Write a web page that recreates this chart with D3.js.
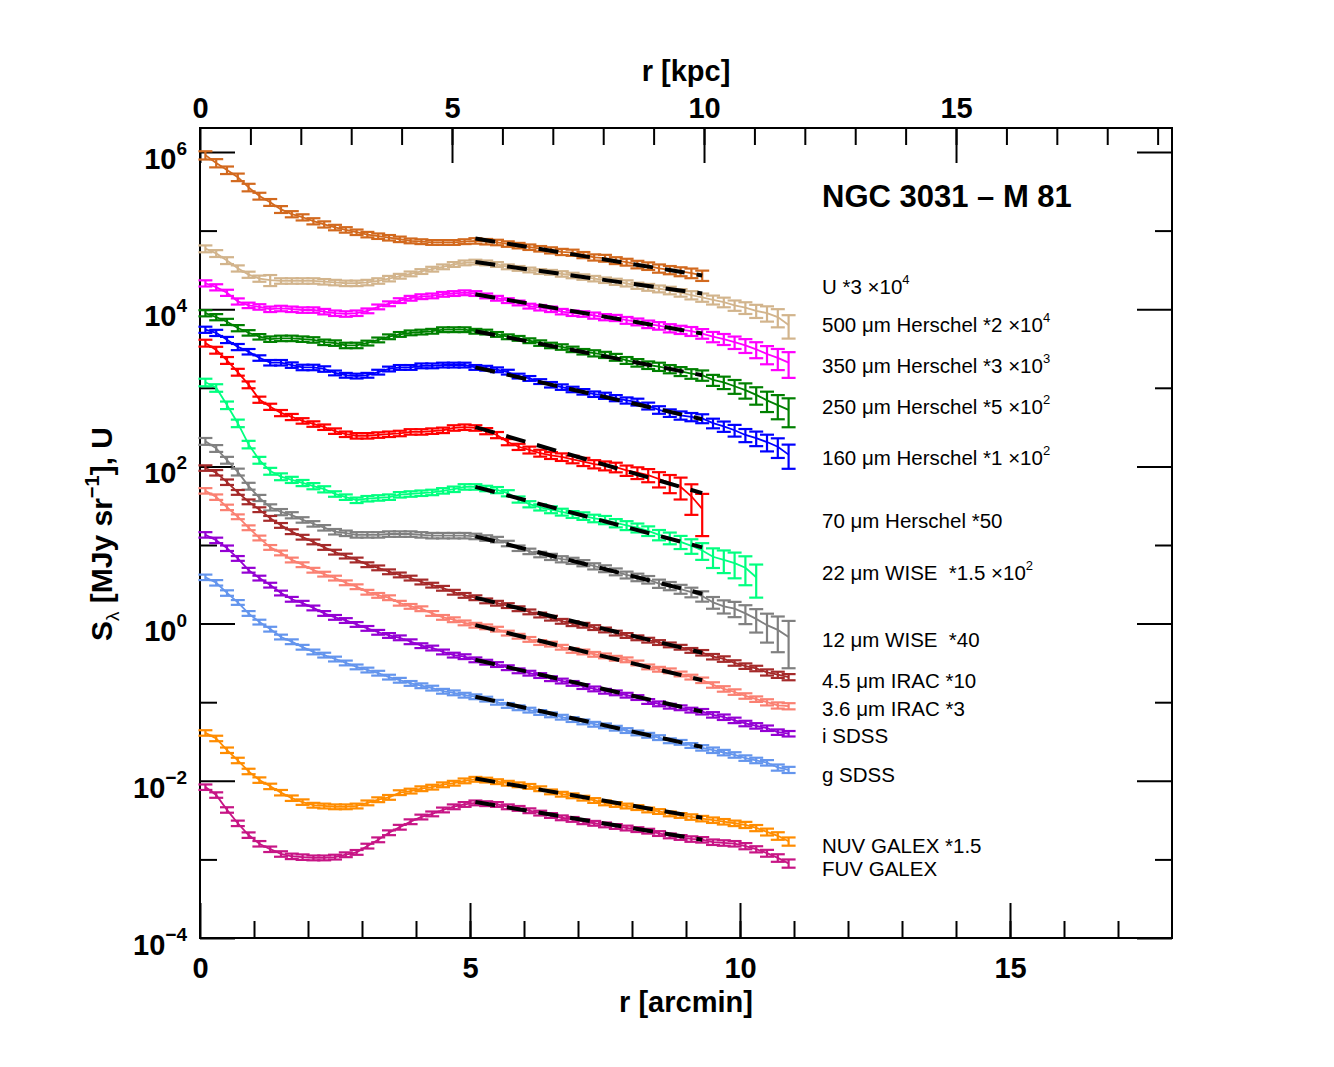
<!DOCTYPE html>
<html><head><meta charset="utf-8">
<script src="https://cdn.jsdelivr.net/npm/d3@7"></script>
<style>
body{margin:0;background:#fff;}
text{font-family:"Liberation Sans",Arial,Helvetica,sans-serif;white-space:pre;}
</style></head><body>
<svg id="chart" width="1334" height="1067"></svg>
<script>
// ---------------- DATA ----------------
const radiusArcmin = [0.1,0.3,0.5,0.7,0.9,1.1,1.3,1.5,1.7,1.9,2.1,2.3,2.5,2.7,2.9,3.1,3.3,3.5,3.7,3.9,4.1,4.3,4.5,4.7,4.9,5.1,5.3,5.5,5.7,5.9,6.1,6.3,6.5,6.7,6.9,7.1,7.3,7.5,7.7,7.9,8.1,8.3,8.5,8.7,8.9,9.1,9.3,9.5,9.7,9.9,10.1,10.3,10.5,10.7,10.9];
const kpcPerArcmin = 1.0714;

// log10 of scaled surface brightness
const log_U = [5.96,5.86,5.77,5.68,5.55,5.44,5.36,5.27,5.21,5.17,5.12,5.08,5.04,5.01,4.98,4.95,4.93,4.91,4.89,4.87,4.86,4.85,4.85,4.85,4.86,4.87,4.86,4.85,4.83,4.81,4.79,4.77,4.75,4.73,4.72,4.69,4.66,4.65,4.62,4.60,4.57,4.55,4.52,4.50,4.48,4.46,4.43];
const log_H500 = [4.77,4.71,4.62,4.52,4.44,4.39,4.37,4.36,4.36,4.36,4.36,4.35,4.34,4.33,4.33,4.34,4.36,4.39,4.42,4.45,4.48,4.51,4.54,4.57,4.59,4.60,4.59,4.57,4.54,4.52,4.50,4.48,4.47,4.45,4.43,4.41,4.39,4.37,4.35,4.33,4.30,4.28,4.26,4.24,4.21,4.18,4.15,4.12,4.09,4.05,4.02,3.98,3.95,3.90,3.80];
const log_H350 = [4.33,4.28,4.21,4.10,4.05,4.03,4.00,4.01,4.00,3.99,3.99,3.97,3.95,3.94,3.95,3.98,4.03,4.07,4.11,4.14,4.16,4.17,4.19,4.20,4.21,4.20,4.17,4.14,4.11,4.08,4.04,4.02,4.00,3.97,3.95,3.94,3.92,3.90,3.89,3.86,3.84,3.81,3.79,3.76,3.74,3.72,3.69,3.65,3.62,3.58,3.54,3.49,3.43,3.38,3.32];
const log_H250 = [3.95,3.90,3.84,3.76,3.70,3.65,3.62,3.63,3.63,3.62,3.61,3.58,3.57,3.54,3.54,3.57,3.61,3.65,3.68,3.70,3.71,3.72,3.74,3.74,3.74,3.72,3.71,3.68,3.65,3.63,3.60,3.57,3.54,3.52,3.49,3.46,3.44,3.42,3.39,3.35,3.32,3.29,3.27,3.24,3.21,3.18,3.16,3.10,3.07,3.02,2.97,2.91,2.84,2.78,2.72];
const log_H160 = [3.74,3.70,3.61,3.52,3.46,3.38,3.32,3.32,3.29,3.26,3.26,3.24,3.19,3.16,3.15,3.16,3.20,3.24,3.26,3.26,3.28,3.28,3.29,3.29,3.29,3.26,3.25,3.23,3.20,3.15,3.12,3.08,3.04,3.01,2.98,2.95,2.92,2.90,2.87,2.84,2.82,2.77,2.72,2.68,2.65,2.63,2.61,2.55,2.51,2.46,2.40,2.36,2.31,2.25,2.15];
const log_H70 = [3.57,3.48,3.35,3.20,3.04,2.85,2.76,2.68,2.63,2.58,2.54,2.50,2.45,2.41,2.39,2.39,2.40,2.41,2.42,2.44,2.44,2.45,2.46,2.49,2.50,2.49,2.45,2.40,2.31,2.25,2.21,2.17,2.14,2.12,2.09,2.06,2.03,2.01,1.99,1.95,1.92,1.89,1.84,1.79,1.74,1.62,1.46];
const log_W22 = [3.07,3.00,2.78,2.55,2.28,2.08,1.94,1.87,1.83,1.79,1.75,1.71,1.65,1.61,1.57,1.59,1.60,1.61,1.64,1.65,1.66,1.67,1.69,1.71,1.74,1.74,1.72,1.70,1.66,1.58,1.52,1.48,1.45,1.42,1.39,1.37,1.34,1.32,1.28,1.25,1.22,1.18,1.13,1.09,1.04,0.99,0.93,0.85,0.81,0.77,0.71,0.59];
const log_W12 = [2.32,2.23,2.08,1.93,1.75,1.60,1.48,1.42,1.38,1.32,1.27,1.22,1.17,1.15,1.13,1.13,1.13,1.14,1.14,1.14,1.13,1.12,1.12,1.12,1.12,1.11,1.09,1.07,1.02,0.96,0.92,0.88,0.85,0.82,0.80,0.77,0.73,0.70,0.66,0.62,0.59,0.56,0.51,0.48,0.44,0.40,0.35,0.27,0.22,0.19,0.13,0.06,-0.02,-0.08,-0.17];
const log_I45 = [1.98,1.92,1.80,1.67,1.55,1.45,1.34,1.25,1.17,1.10,1.04,0.97,0.91,0.86,0.81,0.75,0.71,0.66,0.62,0.58,0.53,0.49,0.45,0.40,0.36,0.33,0.29,0.26,0.23,0.19,0.15,0.11,0.07,0.03,0.00,-0.02,-0.05,-0.08,-0.12,-0.15,-0.18,-0.21,-0.24,-0.27,-0.30,-0.34,-0.37,-0.42,-0.45,-0.50,-0.54,-0.57,-0.62,-0.65,-0.68];
const log_I36 = [1.69,1.61,1.48,1.36,1.22,1.09,0.97,0.90,0.81,0.75,0.68,0.63,0.58,0.52,0.47,0.40,0.36,0.33,0.26,0.22,0.19,0.13,0.08,0.05,0.01,-0.02,-0.04,-0.07,-0.12,-0.16,-0.20,-0.24,-0.26,-0.30,-0.34,-0.36,-0.39,-0.41,-0.44,-0.46,-0.50,-0.55,-0.58,-0.60,-0.64,-0.68,-0.72,-0.78,-0.83,-0.87,-0.92,-0.96,-1.00,-1.04,-1.05];
const log_Si = [1.13,1.06,0.96,0.83,0.68,0.58,0.49,0.39,0.31,0.26,0.20,0.13,0.08,0.04,-0.01,-0.06,-0.11,-0.15,-0.18,-0.23,-0.28,-0.31,-0.36,-0.40,-0.42,-0.46,-0.49,-0.52,-0.56,-0.60,-0.63,-0.66,-0.70,-0.73,-0.76,-0.80,-0.83,-0.86,-0.88,-0.91,-0.94,-0.99,-1.02,-1.05,-1.07,-1.10,-1.12,-1.16,-1.19,-1.23,-1.27,-1.30,-1.33,-1.38,-1.40];
const log_Sg = [0.59,0.52,0.39,0.27,0.13,0.02,-0.07,-0.17,-0.23,-0.30,-0.36,-0.40,-0.45,-0.50,-0.55,-0.59,-0.63,-0.68,-0.72,-0.76,-0.79,-0.82,-0.86,-0.88,-0.91,-0.93,-0.96,-1.00,-1.04,-1.07,-1.10,-1.13,-1.16,-1.19,-1.22,-1.25,-1.28,-1.30,-1.33,-1.36,-1.39,-1.42,-1.45,-1.49,-1.51,-1.55,-1.58,-1.61,-1.64,-1.67,-1.71,-1.74,-1.77,-1.83,-1.86];
const log_NUV = [-1.39,-1.46,-1.61,-1.74,-1.88,-1.99,-2.07,-2.15,-2.22,-2.27,-2.31,-2.32,-2.33,-2.33,-2.32,-2.28,-2.24,-2.21,-2.15,-2.13,-2.10,-2.08,-2.05,-2.03,-2.00,-1.98,-1.99,-2.01,-2.03,-2.05,-2.07,-2.10,-2.14,-2.17,-2.19,-2.22,-2.25,-2.28,-2.30,-2.32,-2.34,-2.37,-2.39,-2.42,-2.44,-2.46,-2.48,-2.50,-2.52,-2.54,-2.56,-2.60,-2.65,-2.70,-2.77];
const log_FUV = [-2.08,-2.18,-2.37,-2.54,-2.69,-2.80,-2.87,-2.93,-2.96,-2.97,-2.98,-2.98,-2.97,-2.94,-2.91,-2.83,-2.75,-2.66,-2.59,-2.52,-2.46,-2.42,-2.37,-2.33,-2.30,-2.28,-2.29,-2.30,-2.33,-2.35,-2.38,-2.41,-2.44,-2.47,-2.49,-2.52,-2.54,-2.56,-2.58,-2.60,-2.62,-2.64,-2.67,-2.70,-2.72,-2.74,-2.75,-2.78,-2.79,-2.80,-2.83,-2.87,-2.92,-2.98,-3.05];

// fractional (linear) errors
const err_U = [0.12,0.12,0.11,0.11,0.11,0.10,0.10,0.10,0.09,0.09,0.09,0.09,0.08,0.08,0.08,0.08,0.08,0.08,0.08,0.07,0.07,0.07,0.07,0.07,0.07,0.08,0.08,0.08,0.08,0.08,0.08,0.08,0.09,0.09,0.09,0.09,0.09,0.10,0.10,0.10,0.11,0.11,0.12,0.12,0.13,0.14,0.15];
const err_H500 = [0.10,0.10,0.10,0.09,0.09,0.09,0.16,0.08,0.08,0.08,0.08,0.08,0.08,0.08,0.08,0.08,0.08,0.08,0.07,0.07,0.07,0.07,0.07,0.07,0.07,0.07,0.07,0.07,0.07,0.07,0.07,0.07,0.07,0.08,0.08,0.08,0.08,0.08,0.09,0.09,0.09,0.10,0.10,0.11,0.11,0.12,0.12,0.13,0.14,0.15,0.17,0.19,0.22,0.26,0.33];
const err_H350 = [0.09,0.09,0.09,0.09,0.08,0.08,0.08,0.08,0.08,0.08,0.08,0.08,0.08,0.08,0.08,0.07,0.07,0.07,0.07,0.07,0.07,0.07,0.07,0.07,0.07,0.07,0.07,0.07,0.07,0.07,0.07,0.08,0.08,0.08,0.08,0.08,0.09,0.09,0.09,0.10,0.10,0.11,0.11,0.12,0.12,0.13,0.14,0.15,0.16,0.18,0.20,0.23,0.26,0.30,0.36];
const err_H250 = [0.09,0.09,0.09,0.09,0.08,0.08,0.08,0.08,0.08,0.08,0.08,0.08,0.08,0.08,0.08,0.07,0.07,0.07,0.07,0.07,0.07,0.07,0.07,0.07,0.07,0.07,0.07,0.07,0.07,0.07,0.07,0.08,0.08,0.08,0.08,0.08,0.09,0.09,0.10,0.10,0.11,0.11,0.12,0.12,0.13,0.14,0.15,0.16,0.18,0.20,0.22,0.25,0.29,0.34,0.40];
const err_H160 = [0.09,0.09,0.09,0.09,0.08,0.08,0.08,0.08,0.08,0.08,0.08,0.08,0.07,0.07,0.07,0.07,0.07,0.07,0.07,0.07,0.07,0.07,0.07,0.07,0.07,0.07,0.07,0.07,0.07,0.07,0.07,0.07,0.08,0.08,0.08,0.08,0.08,0.09,0.09,0.09,0.10,0.10,0.11,0.11,0.12,0.12,0.13,0.14,0.15,0.17,0.19,0.21,0.24,0.28,0.34];
const err_H70 = [0.10,0.10,0.10,0.10,0.10,0.09,0.09,0.09,0.09,0.08,0.08,0.08,0.08,0.08,0.08,0.08,0.08,0.08,0.08,0.08,0.08,0.08,0.08,0.08,0.08,0.08,0.09,0.09,0.09,0.09,0.10,0.10,0.10,0.11,0.11,0.12,0.12,0.13,0.14,0.15,0.17,0.19,0.22,0.26,0.31,0.42,0.55];
const err_W22 = [0.11,0.11,0.11,0.11,0.11,0.10,0.10,0.10,0.09,0.09,0.09,0.09,0.08,0.08,0.08,0.08,0.08,0.08,0.08,0.08,0.08,0.08,0.08,0.08,0.08,0.08,0.08,0.09,0.09,0.09,0.09,0.09,0.10,0.10,0.10,0.11,0.11,0.12,0.12,0.13,0.13,0.14,0.15,0.17,0.19,0.21,0.24,0.28,0.32,0.36,0.40,0.45];
const err_W12 = [0.10,0.10,0.10,0.10,0.10,0.09,0.09,0.09,0.09,0.08,0.08,0.08,0.08,0.08,0.08,0.08,0.08,0.08,0.08,0.08,0.08,0.08,0.08,0.08,0.08,0.08,0.08,0.08,0.08,0.08,0.08,0.08,0.09,0.09,0.09,0.09,0.09,0.10,0.10,0.10,0.11,0.11,0.12,0.12,0.13,0.14,0.15,0.17,0.19,0.22,0.27,0.33,0.40,0.48,0.60];
const err_I45 = [0.08,0.08,0.08,0.07,0.07,0.07,0.07,0.07,0.07,0.07,0.07,0.07,0.07,0.07,0.07,0.07,0.07,0.07,0.07,0.07,0.07,0.07,0.07,0.07,0.07,0.07,0.07,0.07,0.07,0.07,0.07,0.07,0.07,0.07,0.07,0.07,0.07,0.07,0.07,0.07,0.07,0.07,0.07,0.07,0.07,0.07,0.08,0.08,0.08,0.08,0.08,0.08,0.09,0.09,0.09];
const err_I36 = [0.08,0.08,0.08,0.07,0.07,0.07,0.07,0.07,0.07,0.07,0.07,0.07,0.07,0.07,0.07,0.07,0.07,0.07,0.07,0.07,0.07,0.07,0.07,0.07,0.07,0.07,0.07,0.07,0.07,0.07,0.07,0.07,0.07,0.07,0.07,0.07,0.07,0.07,0.07,0.07,0.07,0.07,0.07,0.07,0.07,0.07,0.08,0.08,0.08,0.08,0.08,0.08,0.09,0.09,0.09];
const err_Si = [0.08,0.08,0.08,0.07,0.07,0.07,0.07,0.07,0.07,0.07,0.07,0.07,0.07,0.07,0.07,0.07,0.07,0.07,0.07,0.07,0.07,0.07,0.07,0.07,0.07,0.07,0.07,0.07,0.07,0.07,0.07,0.07,0.07,0.07,0.07,0.07,0.07,0.07,0.07,0.07,0.07,0.07,0.07,0.07,0.07,0.07,0.08,0.08,0.08,0.08,0.08,0.08,0.08,0.08,0.08];
const err_Sg = [0.08,0.08,0.08,0.07,0.07,0.07,0.07,0.07,0.07,0.07,0.07,0.07,0.07,0.07,0.07,0.07,0.07,0.07,0.07,0.07,0.07,0.07,0.07,0.07,0.07,0.07,0.07,0.07,0.07,0.07,0.07,0.07,0.07,0.07,0.07,0.07,0.07,0.07,0.07,0.07,0.07,0.07,0.07,0.07,0.07,0.07,0.08,0.08,0.08,0.08,0.08,0.08,0.08,0.09,0.09];
const err_NUV = [0.08,0.08,0.08,0.08,0.08,0.08,0.08,0.08,0.08,0.08,0.07,0.07,0.07,0.07,0.07,0.07,0.07,0.07,0.07,0.07,0.07,0.07,0.07,0.07,0.07,0.07,0.07,0.07,0.07,0.07,0.07,0.07,0.07,0.07,0.07,0.07,0.07,0.07,0.07,0.07,0.07,0.07,0.07,0.07,0.07,0.08,0.08,0.08,0.08,0.08,0.09,0.09,0.10,0.11,0.12];
const err_FUV = [0.08,0.08,0.08,0.08,0.08,0.08,0.08,0.08,0.08,0.08,0.07,0.07,0.07,0.07,0.07,0.07,0.07,0.07,0.07,0.07,0.07,0.07,0.07,0.07,0.07,0.07,0.07,0.07,0.07,0.07,0.07,0.07,0.07,0.07,0.07,0.07,0.07,0.07,0.07,0.07,0.07,0.07,0.07,0.07,0.07,0.08,0.08,0.08,0.08,0.08,0.09,0.09,0.10,0.11,0.12];

// exponential-disc fits (log10 at fitRange ends)
const fitRange = [5.1, 9.3];
const fitLogStart = [4.90,4.60,4.19,3.72,3.26,2.50,1.74,1.11,0.33,-0.02,-0.46,-0.93,-1.97,-2.27];
const fitLogEnd   = [4.43,4.20,3.69,3.16,2.60,1.66,0.97,0.38,-0.37,-0.72,-1.12,-1.57,-2.47,-2.75];

const labelText = ["U *3 \u00d710","500 \u03bcm Herschel *2 \u00d710","350 \u03bcm Herschel *3 \u00d710","250 \u03bcm Herschel *5 \u00d710","160 \u03bcm Herschel *1 \u00d710","70 \u03bcm Herschel *50","22 \u03bcm WISE  *1.5 \u00d710","12 \u03bcm WISE  *40","4.5 \u03bcm IRAC *10","3.6 \u03bcm IRAC *3","i SDSS","g SDSS","NUV GALEX *1.5","FUV GALEX"];
const labelSup = ["4","4","3","2","2","","2","","","","","","",""];
const yTickExponents = [6,4,2,0,-2,-4];
const yMinorExponents = [5,3,1,-1,-3];
const xTickLabels = [0,5,10,15];
const kpcTickLabels = [0,5,10,15];
const titleText = "NGC 3031 \u2013 M 81";

// ---------------- STYLE / LAYOUT ----------------
const seriesLogs = [log_U,log_H500,log_H350,log_H250,log_H160,log_H70,log_W22,log_W12,log_I45,log_I36,log_Si,log_Sg,log_NUV,log_FUV];
const seriesErrs = [err_U,err_H500,err_H350,err_H250,err_H160,err_H70,err_W22,err_W12,err_I45,err_I36,err_Si,err_Sg,err_NUV,err_FUV];
const seriesColors = ["#d2691e","#d2b48c","#ff00ff","#008000","#0000ff","#ff0000","#00ff7f","#808080","#a52a2a","#fa8072","#9400d3","#6495ed","#ff8c00","#c71585"];
const labelBaselines = [294,332,373,414,465,528,580,647,688,716,743,782,853,876];

const L=200, R=1172, T=128, B=938;
const svg = d3.select("#chart");
svg.append("rect").attr("width",1334).attr("height",1067).attr("fill","#fff");

const x = d3.scaleLinear().domain([0,18]).range([L,R]);
const xk = d3.scaleLinear().domain([0,18*kpcPerArcmin]).range([L,R]);
const y = d3.scaleLog().domain([1e-4,2.02e6]).range([B,T]);

function styleAxis(g){
  g.select(".domain").remove();
  g.selectAll(".tick line").attr("stroke","#000").attr("stroke-width",2);
  g.selectAll(".tick text").attr("fill","#000").style("font-size","29px").style("font-weight","bold")
   .style("font-family",'"Liberation Sans",Arial,sans-serif');
}

// bottom axis (arcmin)
svg.append("g").attr("transform",`translate(0,${B})`)
  .call(d3.axisBottom(x).tickValues(d3.range(1,18)).tickSize(-17).tickSizeOuter(0).tickFormat(""))
  .call(styleAxis);
svg.append("g").attr("transform",`translate(0,${B})`)
  .call(d3.axisBottom(x).tickValues(xTickLabels).tickSize(-35).tickSizeOuter(0).tickPadding(19).tickFormat(d3.format("d")))
  .call(styleAxis);
// top axis (kpc)
svg.append("g").attr("transform",`translate(0,${T})`)
  .call(d3.axisTop(xk).tickValues(d3.range(1,20)).tickSize(-17).tickSizeOuter(0).tickFormat(""))
  .call(styleAxis);
svg.append("g").attr("transform",`translate(0,${T})`)
  .call(d3.axisTop(xk).tickValues(kpcTickLabels).tickSize(-35).tickSizeOuter(0).tickPadding(10).tickFormat(d3.format("d")))
  .call(styleAxis);
// left / right axes
const majV = yTickExponents.map(e=>Math.pow(10,e));
const minV = yMinorExponents.map(e=>Math.pow(10,e));
svg.append("g").attr("transform",`translate(${L},0)`)
  .call(d3.axisLeft(y).tickValues(majV).tickSize(-35).tickSizeOuter(0).tickFormat("")).call(styleAxis);
svg.append("g").attr("transform",`translate(${L},0)`)
  .call(d3.axisLeft(y).tickValues(minV).tickSize(-17).tickSizeOuter(0).tickFormat("")).call(styleAxis);
svg.append("g").attr("transform",`translate(${R},0)`)
  .call(d3.axisRight(y).tickValues(majV).tickSize(-35).tickSizeOuter(0).tickFormat("")).call(styleAxis);
svg.append("g").attr("transform",`translate(${R},0)`)
  .call(d3.axisRight(y).tickValues(minV).tickSize(-17).tickSizeOuter(0).tickFormat("")).call(styleAxis);

// y tick labels with superscripts
yTickExponents.forEach(e=>{
  const t = svg.append("text").attr("x",187).attr("y",y(Math.pow(10,e))+17).attr("text-anchor","end")
    .style("font-size","29px").style("font-weight","bold");
  t.append("tspan").text("10");
  t.append("tspan").attr("dy",-14).style("font-size","19px").text(e<0?"\u2212"+Math.abs(e):String(e));
});

// frame
svg.append("rect").attr("x",L).attr("y",T).attr("width",R-L).attr("height",B-T)
  .attr("fill","none").attr("stroke","#000").attr("stroke-width",2);

// axis titles
svg.append("text").attr("x",686).attr("y",1012).attr("text-anchor","middle")
  .style("font-size","29px").style("font-weight","bold").text("r [arcmin]");
svg.append("text").attr("x",686).attr("y",81).attr("text-anchor","middle")
  .style("font-size","29px").style("font-weight","bold").text("r [kpc]");
{
  const t = svg.append("text").attr("transform","translate(112,534) rotate(-90)").attr("text-anchor","middle")
    .style("font-size","30px").style("font-weight","bold");
  t.append("tspan").text("S");
  t.append("tspan").attr("dy",7).style("font-size","19px").style("font-weight","normal").text("\u03bb");
  t.append("tspan").attr("dy",-7).text(" [MJy sr");
  t.append("tspan").attr("dy",-13).style("font-size","20px").text("\u22121");
  t.append("tspan").attr("dy",13).text("], U");
}

// data
const plot = svg.append("g");
const line = d3.line().x(d=>x(d.r)).y(d=>y(d.v));
const CAP = 7;
seriesLogs.forEach((logs,si)=>{
  const col = seriesColors[si];
  const pts = logs.map((lv,i)=>({r:radiusArcmin[i], v:Math.pow(10,lv), e:seriesErrs[si][i]}));
  const g = plot.append("g");
  g.append("path").datum(pts).attr("d",line).attr("fill","none").attr("stroke",col).attr("stroke-width",1.8);
  const eb = g.selectAll("g.eb").data(pts).join("g").attr("class","eb")
    .attr("stroke",col).attr("stroke-width",2.2);
  eb.append("line").attr("x1",d=>x(d.r)).attr("x2",d=>x(d.r))
    .attr("y1",d=>y(d.v*(1+d.e))).attr("y2",d=>y(d.v*(1-d.e)));
  eb.append("line").attr("x1",d=>x(d.r)-CAP).attr("x2",d=>x(d.r)+CAP)
    .attr("y1",d=>y(d.v*(1+d.e))).attr("y2",d=>y(d.v*(1+d.e)));
  eb.append("line").attr("x1",d=>x(d.r)-CAP).attr("x2",d=>x(d.r)+CAP)
    .attr("y1",d=>y(d.v*(1-d.e))).attr("y2",d=>y(d.v*(1-d.e)));
});
// fits
fitLogStart.forEach((s,i)=>{
  plot.append("line").attr("x1",x(fitRange[0])).attr("x2",x(fitRange[1]))
    .attr("y1",y(Math.pow(10,s))).attr("y2",y(Math.pow(10,fitLogEnd[i])))
    .attr("stroke","#000").attr("stroke-width",4).attr("stroke-dasharray","20,12");
});

// labels
svg.append("text").attr("x",822).attr("y",207).style("font-size","31px").style("font-weight","bold").text(titleText);
labelText.forEach((txt,i)=>{
  const t = svg.append("text").attr("x",822).attr("y",labelBaselines[i]).style("font-size","20.5px").attr("fill","#000");
  t.append("tspan").text(txt);
  if(labelSup[i]) t.append("tspan").attr("dy",-10).style("font-size","13px").text(labelSup[i]);
});
</script>
</body></html>
